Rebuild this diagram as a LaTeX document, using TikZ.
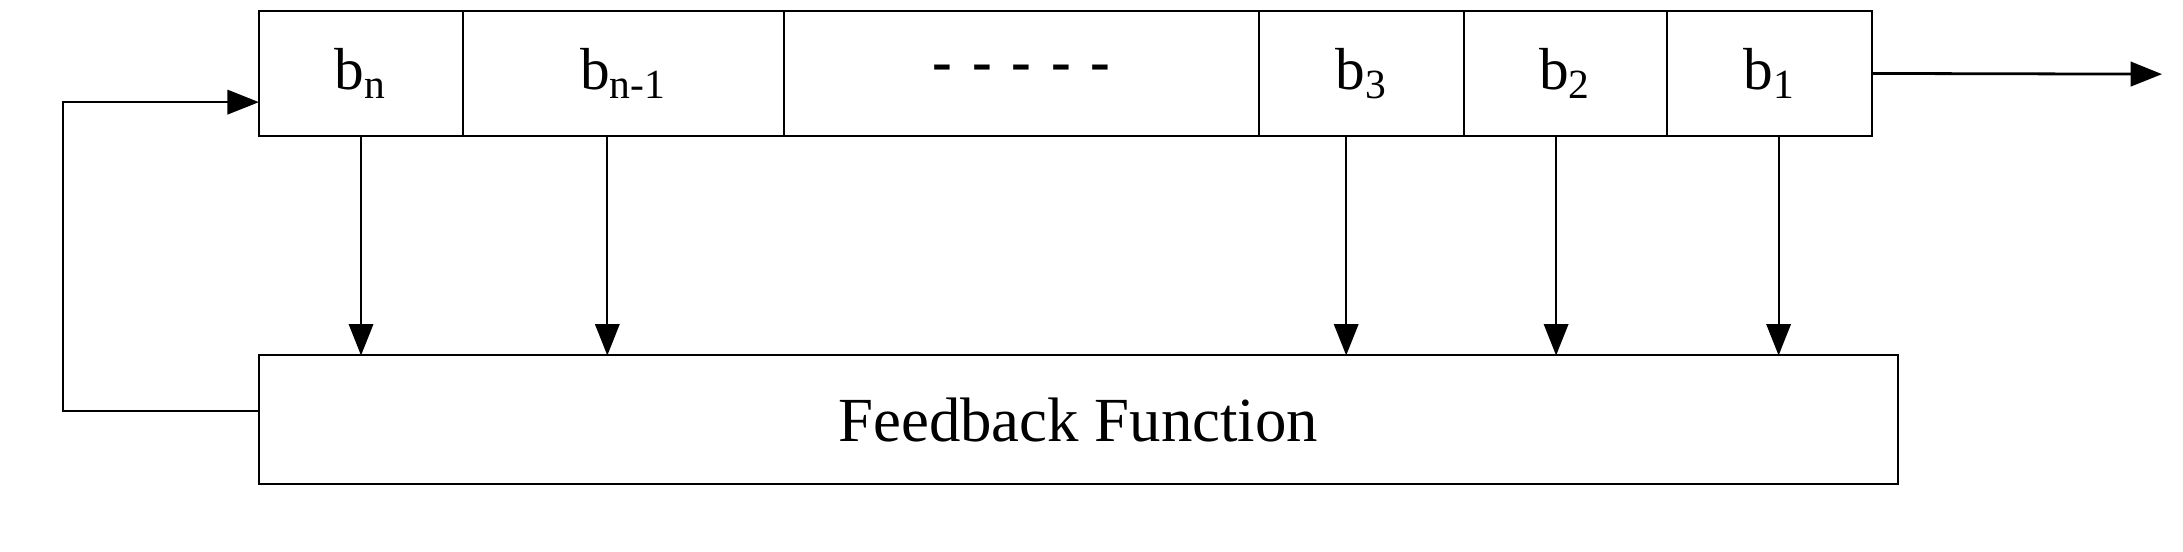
\documentclass[tikz,border=0pt]{standalone}
\usepackage{fontspec}
\setmainfont{Liberation Serif}
\usetikzlibrary{positioning, arrows.meta}
\begin{document}
\begin{tikzpicture}[x=0.0141cm, y=-0.0141cm, >={Triangle[length=9pt,width=7pt]},
    cell/.style={draw, semithick, minimum height=89*0.0141cm, inner sep=0pt, outer sep=0pt, anchor=north west, font=\fontsize{17}{20}\selectfont},
    func/.style={draw, semithick, minimum height=92*0.0141cm, minimum width=1171*0.0141cm, outer sep=0pt, font=\fontsize{18}{22}\selectfont}]
    \useasboundingbox (0,0) rectangle (1560,394);

    % Shift register cells
    \node[cell, minimum width=146*0.0141cm] (bn) at (185,8) {b\textsubscript{n}};
    \node[cell, minimum width=229*0.0141cm] (bn1) at (331,8) {b\textsubscript{n-1}};
    \node[cell, minimum width=340*0.0141cm] (dots) at (560,8) {\textbf{-\,\,-\,\,-\,\,-\,\,-}};
    \node[cell, minimum width=146*0.0141cm] (b3) at (900,8) {b\textsubscript{3}};
    \node[cell, minimum width=145*0.0141cm] (b2) at (1046,8) {b\textsubscript{2}};
    \node[cell, minimum width=147*0.0141cm] (b1) at (1191,8) {b\textsubscript{1}};

    % Feedback function
    \node[func, anchor=north west] (ff) at (185,254) {Feedback Function};

    % Taps
    \foreach \c/\x in {bn/258, bn1/434, b3/962, b2/1112, b1/1271} {
        \draw[->, semithick] (\c.south -| \x,0) -- (ff.north -| \x,0);
    }

    % Output and feedback
    \coordinate (out) at (1545,53);
    \draw[->, thick] (b1.east) -- (out);
    \coordinate (fl) at (45,294);
    \draw[->, semithick] (ff.west |- fl) -- (fl) |- (bn.west |- 0,73);
\end{tikzpicture}
\end{document}
